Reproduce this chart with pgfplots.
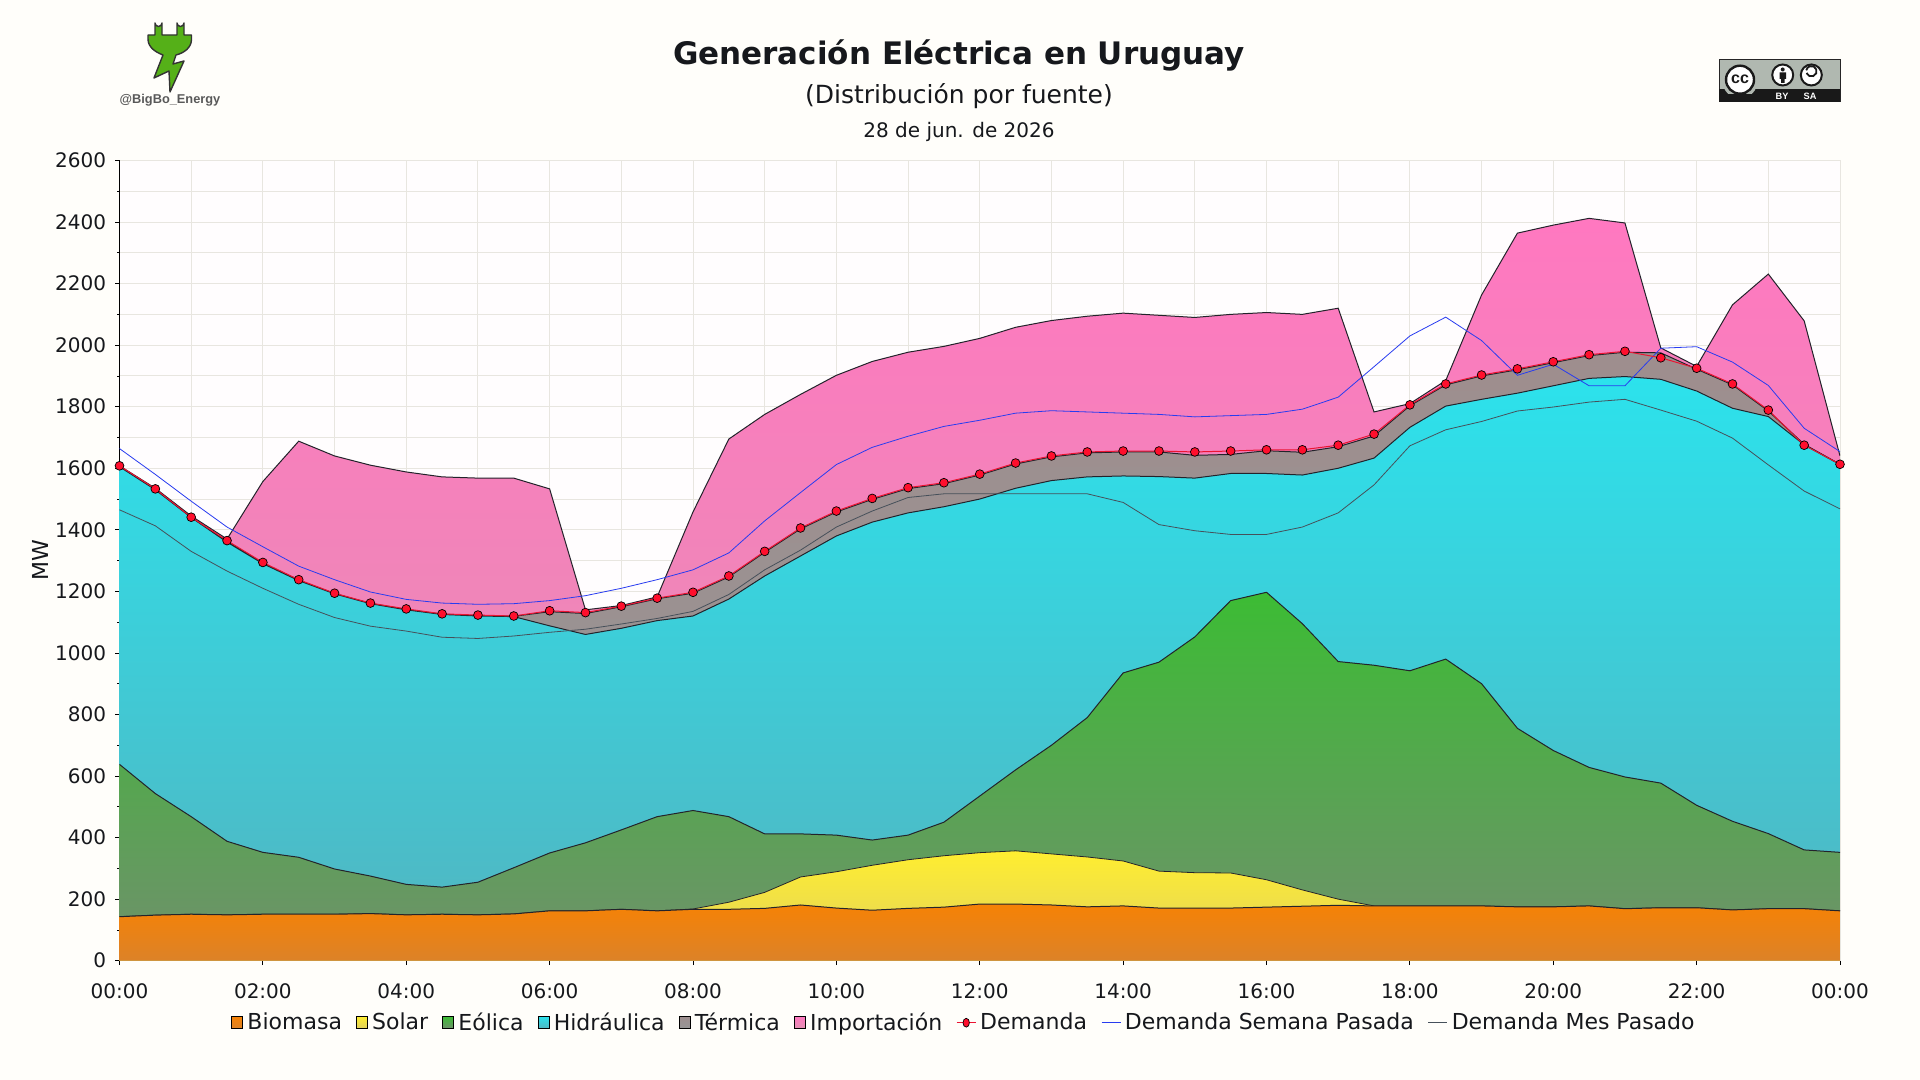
\documentclass[border=0pt]{standalone}
\usepackage{fontspec}
\setmainfont{DejaVu Sans}
\newfontfamily\logofont{Liberation Sans}
\usepackage{pgfplots}
\usepackage{pgfplotstable}
\pgfplotsset{compat=1.18}

\definecolor{pagebg}{HTML}{FFFEFA}
\definecolor{plotbg}{HTML}{FFFDFE}
\definecolor{gridc}{HTML}{E8E6E0}
\definecolor{txt}{HTML}{16181C}
\definecolor{edge}{HTML}{23232B}
\definecolor{imptop}{HTML}{FF78C0}\definecolor{impbot}{HTML}{E292B2}
\definecolor{tertop}{HTML}{9E8E8E}\definecolor{terbot}{HTML}{969696}
\definecolor{hidtop}{HTML}{2CE2EC}\definecolor{hidbot}{HTML}{52B4C0}
\definecolor{eoltop}{HTML}{3CBC34}\definecolor{eolbot}{HTML}{70906C}
\definecolor{soltop}{HTML}{FFEE30}\definecolor{solbot}{HTML}{E0D060}
\definecolor{biotop}{HTML}{F68205}\definecolor{biobot}{HTML}{DC8228}
\definecolor{demc}{HTML}{EB1432}\definecolor{demfill}{HTML}{FF0F2D}
\definecolor{semc}{HTML}{283CF0}\definecolor{mesc}{HTML}{46505A}
\definecolor{logoc}{HTML}{55B018}\definecolor{badge}{HTML}{B0B8B0}

% cumulative tops of the bands (MW), half-hourly
\pgfplotstableread{
t    bio sol  eol  hid  ter  imp  dem  sem  mes
0.0  143 143  638  1605 1606 1608 1608 1664 1465
0.5  148 148  543  1530 1532 1535 1533 1580 1413
1.0  151 151  468  1440 1441 1445 1441 1493 1330
1.5  149 149  388  1360 1362 1370 1365 1409 1266
2.0  151 151  352  1290 1292 1557 1294 1345 1210
2.5  151 151  336  1235 1236 1688 1238 1282 1158
3.0  151 151  298  1192 1193 1640 1194 1238 1115
3.5  153 153  275  1160 1161 1610 1162 1198 1087
4.0  149 149  248  1140 1141 1588 1143 1174 1071
4.5  151 151  239  1125 1126 1572 1127 1162 1051
5.0  149 149  255  1120 1121 1568 1123 1158 1047
5.5  152 152  302  1118 1119 1568 1120 1160 1055
6.0  162 162  350  1088 1134 1533 1137 1170 1067
6.5  162 162  383  1060 1128 1140 1131 1186 1077
7.0  167 167  425  1080 1150 1154 1152 1210 1094
7.5  162 162  468  1105 1176 1182 1178 1238 1112
8.0  167 168  488  1120 1194 1458 1197 1270 1135
8.5  167 190  468  1175 1247 1695 1250 1325 1190
9.0  170 222  412  1250 1327 1775 1330 1429 1270
9.5  181 272  412  1315 1403 1840 1406 1521 1334
10.0 171 289  408  1380 1458 1902 1461 1612 1409
10.5 164 310  392  1425 1499 1947 1502 1668 1461
11.0 170 328  408  1455 1534 1977 1537 1704 1505
11.5 174 341  450  1475 1550 1996 1553 1736 1517
12.0 184 351  535  1500 1578 2022 1581 1756 1517
12.5 184 357  620  1535 1614 2058 1617 1779 1517
13.0 181 347  700  1560 1637 2080 1640 1787 1517
13.5 175 337  790  1572 1650 2094 1653 1783 1517
14.0 178 324  935  1575 1653 2104 1656 1779 1489
14.5 171 291  970  1573 1653 2097 1656 1775 1417
15.0 171 286  1052 1568 1642 2090 1653 1767 1397
15.5 171 285  1170 1583 1645 2100 1656 1771 1385
16.0 174 263  1197 1583 1657 2106 1660 1775 1385
16.5 177 230  1095 1578 1652 2100 1660 1792 1409
17.0 180 200  972  1600 1670 2120 1675 1831 1455
17.5 178 178  960  1633 1705 1783 1711 1930 1546
18.0 178 178  942  1733 1803 1810 1806 2030 1673
18.5 178 178  980  1802 1871 1885 1874 2091 1725
19.0 178 178  900  1824 1900 2163 1903 2015 1752
19.5 175 175  755  1844 1920 2364 1923 1902 1786
20.0 175 175  683  1868 1943 2390 1946 1938 1799
20.5 178 178  628  1892 1966 2412 1969 1868 1815
21.0 169 169  597  1898 1977 2397 1980 1868 1824
21.5 172 172  577  1889 1975 1991 1959 1990 1789
22.0 172 172  505  1851 1922 1931 1925 1995 1753
22.5 165 165  453  1795 1871 2131 1874 1945 1698
23.0 169 169  413  1768 1786 2231 1789 1869 1611
23.5 169 169  360  1676 1678 2079 1675 1730 1526
24.0 162 162  352  1612 1613 1640 1613 1654 1468
}\datatable

\pgfplotsset{
  bandlegend/.style={legend image code/.code={
    \draw[##1,draw=black,line width=.5pt] (0pt,-3.1pt) rectangle (5.6pt,3.1pt);}},
  linelegend/.style={legend image code/.code={
    \draw[##1] (0pt,0pt) -- (9.5pt,0pt);}},
  demlegend/.style={legend image code/.code={
    \draw[demc,line width=.5pt] (0pt,0pt) -- (9.5pt,0pt);
    \fill[demfill,draw=black,line width=.35pt] (4.75pt,0pt) ellipse (1.6pt and 2.2pt);}},
}

\begin{document}
\begin{tikzpicture}[every node/.style={text=txt}]
% page is 960x540pt, one reference pixel is half a point
\path[use as bounding box,fill=pagebg] (-59.75pt,-59.65pt) rectangle (900.25pt,480.35pt);

\begin{axis}[
  at={(0pt,0pt)},anchor=south west,
  scale only axis,width=860.25pt,height=400.1pt,
  xmin=0,xmax=24,ymin=0,ymax=2600,
  axis background/.style={fill=plotbg},
  clip mode=individual,
  axis x line*=bottom,axis y line*=left,
  x axis line style={-,line width=.5pt},y axis line style={-,line width=.5pt},
  tick align=outside,
  major tick length=2.2pt,minor tick length=1.2pt,
  xtick={0,2,...,24},
  xticklabels={00:00,02:00,04:00,06:00,08:00,10:00,12:00,14:00,16:00,18:00,20:00,22:00,00:00},
  minor x tick num=1,
  minor x tick style={draw=none},
  ytick={0,200,...,2600},
  minor y tick num=1,
  grid=both,
  major grid style={gridc,line width=.5pt},
  minor grid style={gridc,line width=.5pt},
  tick style={black,line width=.4pt},
  ticklabel style={font=\fontsize{10}{12}\selectfont,text=txt},
  xticklabel style={yshift=-5.5pt},
  yticklabel style={xshift=-1pt,/pgf/number format/assume math mode=true,/pgf/number format/set thousands separator={}},
  ylabel={MW},
  ylabel style={at={(axis description cs:-0.0462,0.5)},anchor=center,font=\fontsize{11}{13}\selectfont},
  legend columns=-1,
  legend style={at={(axis description cs:0.4914,-0.0775)},anchor=center,draw=none,fill=none,
    font=\fontsize{11}{13}\selectfont,text=txt,
    /tikz/every even column/.style={column sep=5pt}},
]
% legend first, in the reference's order
\addlegendimage{bandlegend,top color=biotop,bottom color=biobot}
\addlegendentry{Biomasa}
\addlegendimage{bandlegend,top color=soltop,bottom color=solbot}
\addlegendentry{Solar}
\addlegendimage{bandlegend,top color=eoltop,bottom color=eolbot}
\addlegendentry{Eólica}
\addlegendimage{bandlegend,top color=hidtop,bottom color=hidbot}
\addlegendentry{Hidráulica}
\addlegendimage{bandlegend,top color=tertop,bottom color=terbot}
\addlegendentry{Térmica}
\addlegendimage{bandlegend,top color=imptop,bottom color=impbot}
\addlegendentry{Importación}
\addlegendimage{demlegend}
\addlegendentry{Demanda}
\addlegendimage{linelegend,semc,line width=.5pt}
\addlegendentry{Demanda Semana Pasada}
\addlegendimage{linelegend,mesc,line width=.5pt}
\addlegendentry{Demanda Mes Pasado}

% areas, back to front, each shaded from its own peak down to zero
\addplot[forget plot,draw=none,top color=imptop,bottom color=impbot] table[x=t,y=imp] {\datatable} \closedcycle;
\addplot[forget plot,edge,line width=.5pt] table[x=t,y=imp] {\datatable};
\addplot[forget plot,draw=none,top color=tertop,bottom color=terbot] table[x=t,y=ter] {\datatable} \closedcycle;
\addplot[forget plot,edge,line width=.5pt] table[x=t,y=ter] {\datatable};
\addplot[forget plot,draw=none,top color=hidtop,bottom color=hidbot] table[x=t,y=hid] {\datatable} \closedcycle;
\addplot[forget plot,edge,line width=.5pt] table[x=t,y=hid] {\datatable};
\addplot[forget plot,draw=none,top color=eoltop,bottom color=eolbot] table[x=t,y=eol] {\datatable} \closedcycle;
\addplot[forget plot,edge,line width=.5pt] table[x=t,y=eol] {\datatable};
\addplot[forget plot,draw=none,top color=soltop,bottom color=solbot] table[x=t,y=sol] {\datatable} \closedcycle;
\addplot[forget plot,edge,line width=.4pt] table[x=t,y=sol] {\datatable};
\addplot[forget plot,draw=none,top color=biotop,bottom color=biobot] table[x=t,y=bio] {\datatable} \closedcycle;
\addplot[forget plot,edge,line width=.5pt] table[x=t,y=bio] {\datatable};

% reference lines
\addplot[forget plot,semc,line width=.4pt] table[x=t,y=sem] {\datatable};
\addplot[forget plot,mesc,line width=.4pt] table[x=t,y=mes] {\datatable};
% demand with its markers
\addplot[forget plot,demc,line width=.5pt,
  mark=*,mark size=2.2pt,mark options={fill=demfill,draw=black,line width=.35pt}]
  table[x=t,y=dem] {\datatable};
\end{axis}

% everything below is in reference pixels, origin at the page's top left
\begin{scope}[shift={(-59.75pt,480.35pt)},x=.5pt,y=-.5pt]
  \node[font=\fontsize{15.5}{18}\selectfont\bfseries] at (959,55) {Generación Eléctrica en Uruguay};
  \node[font=\fontsize{12.5}{15}\selectfont] at (959,96) {(Distribución por fuente)};
  \node[font=\fontsize{10}{12}\selectfont] at (959,132) {28 de jun. de 2026};

  % logo
  \draw[fill=logoc,draw=black!80,line width=.7pt,line join=round]
    (155,35) -- (155,23) arc[start angle=180,end angle=0,radius=3.5] -- (162,35)
    -- (177,35) -- (177,23) arc[start angle=180,end angle=0,radius=3.5] -- (184,35)
    -- (191.5,35) -- (191.5,40) .. controls (191,48) and (184,53) .. (176,55)
    -- (173,64) -- (184,61) -- (170,92) -- (169,71) -- (154,78) -- (163,55)
    .. controls (155,52) and (148,47) .. (148,39) -- (148,35) -- cycle;
  \node[font=\logofont\fontsize{6.4}{8}\selectfont\bfseries,text=black!65] at (170,100.5) {@BigBo\_Energy};

  % licence badge
  \fill[badge] (1719,60) rectangle (1840,90);
  \draw[black!85,line width=.5pt] (1719,60) rectangle (1840,102);
  \fill[black!90] (1719,89.5) rectangle (1840,102);
  \fill[badge] (1740,81) circle[radius=17.5];
  \fill[black!90] (1719,94) rectangle (1840,102);
  \draw[fill=white,draw=black!90,line width=1.2pt] (1740,79.7) circle[radius=14];
  \node[font=\logofont\fontsize{8}{9}\selectfont\bfseries,text=black!90] at (1740,79.7) {cc};
  \draw[fill=white,draw=black!90,line width=1pt] (1782.7,75) circle[radius=10.5];
  \fill[black!90] (1782.7,69.5) circle[radius=2];
  \fill[black!90] (1779.5,72.5) rectangle (1786,79) (1781,79) rectangle (1784.5,83);
  \draw[fill=white,draw=black!90,line width=1pt] (1811.3,75) circle[radius=10.5];
  \draw[black!90,line width=.9pt] (1806.5,73) arc[start angle=160,end angle=-170,radius=5.2];
  \node[font=\logofont\fontsize{4.6}{5}\selectfont\bfseries,text=white] at (1782,96) {BY};
  \node[font=\logofont\fontsize{4.6}{5}\selectfont\bfseries,text=white] at (1810,96) {SA};
\end{scope}
\end{tikzpicture}
\end{document}
